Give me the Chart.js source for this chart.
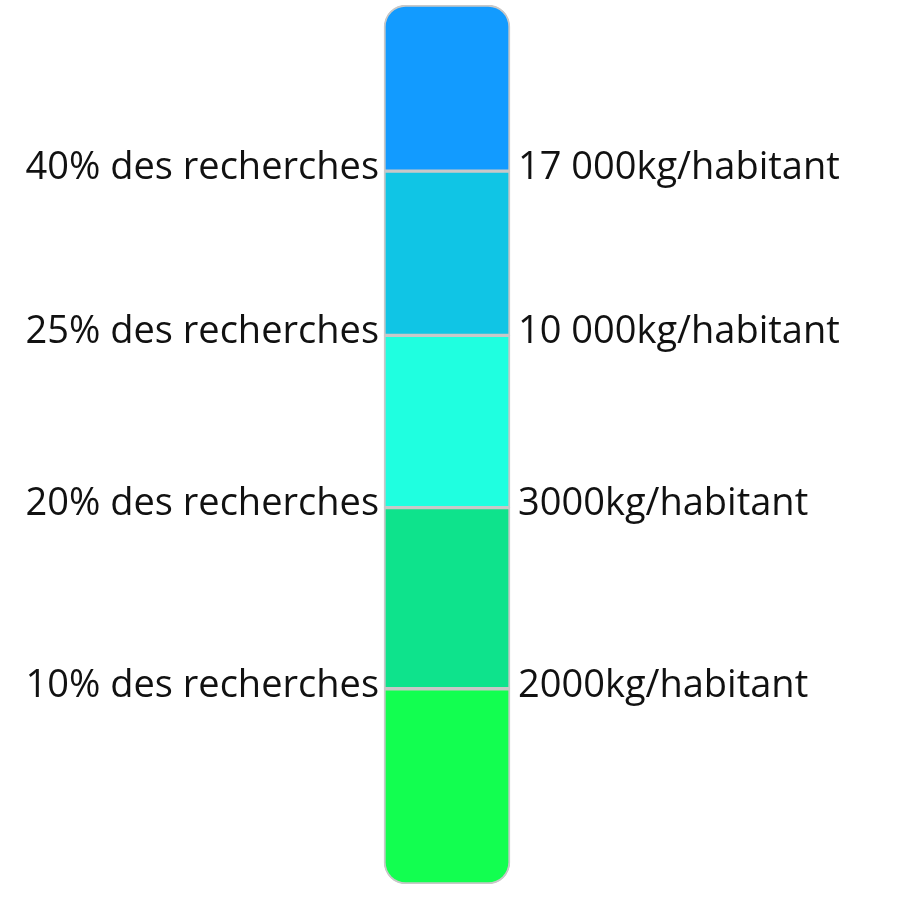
<!DOCTYPE html>
<html>
<head>
<meta charset="utf-8">
<script src="https://cdn.jsdelivr.net/npm/chart.js@4/dist/chart.umd.min.js"></script>
<style>
html,body{margin:0;padding:0;background:#fff;}
#wrap{width:910px;height:908px;}
</style>
</head>
<body>
<div id="wrap"><canvas id="c" width="910" height="908"></canvas></div>
<script>
// Segments listed from bottom to top
const categories = [''];
const segmentValues = [195, 181, 172, 164, 166];
const segmentColors = ['#12FF50', '#0EE38C', '#1FFFE0', '#10C5E5', '#129BFF'];
// Labels at the boundaries between segments (bottom to top)
const leftLabels = ['10% des recherches', '20% des recherches', '25% des recherches', '40% des recherches'];
const rightLabels = ['2000kg/habitant', '3000kg/habitant', '10 000kg/habitant', '17 000kg/habitant'];

const total = segmentValues.reduce((a, b) => a + b, 0);
const R = 22;
const datasets = segmentValues.map((v, i) => ({
  label: 'seg' + i,
  data: [v],
  backgroundColor: segmentColors[i],
  borderColor: '#C8C8C8',
  borderWidth: 2,
  borderSkipped: false,
  barThickness: 126,
  borderRadius: i === 0 ? {bottomLeft: R, bottomRight: R, topLeft: 0, topRight: 0}
             : (i === segmentValues.length - 1 ? {topLeft: R, topRight: R, bottomLeft: 0, bottomRight: 0} : 0)
}));

const FONT = '38px "Open Sans", Lato, sans-serif';
const labelPlugin = {
  id: 'boundaryLabels',
  afterDatasetsDraw(chart) {
    const ctx = chart.ctx;
    const y = chart.scales.y;
    const meta = chart.getDatasetMeta(0).data[0];
    const half = meta.width / 2;
    const left = meta.x - half, right = meta.x + half;
    ctx.save();
    ctx.font = FONT;
    ctx.fillStyle = '#111';
    ctx.textBaseline = 'middle';
    let cum = 0;
    for (let i = 0; i < leftLabels.length; i++) {
      cum += segmentValues[i];
      const py = y.getPixelForValue(cum) - 3;
      ctx.textAlign = 'right';
      ctx.fillText(leftLabels[i], left - 5, py);
      ctx.textAlign = 'left';
      ctx.fillText(rightLabels[i], right + 8, py);
    }
    ctx.restore();
  }
};

new Chart(document.getElementById('c'), {
  type: 'bar',
  data: { labels: categories, datasets },
  options: {
    responsive: false,
    animation: false,
    layout: { padding: { left: 200, right: 216, top: 5, bottom: 24 } },
    plugins: { legend: { display: false }, tooltip: { enabled: false } },
    scales: {
      x: { display: false, stacked: true },
      y: { display: false, stacked: true, min: 0, max: total }
    }
  },
  plugins: [labelPlugin]
});
</script>
</body>
</html>
